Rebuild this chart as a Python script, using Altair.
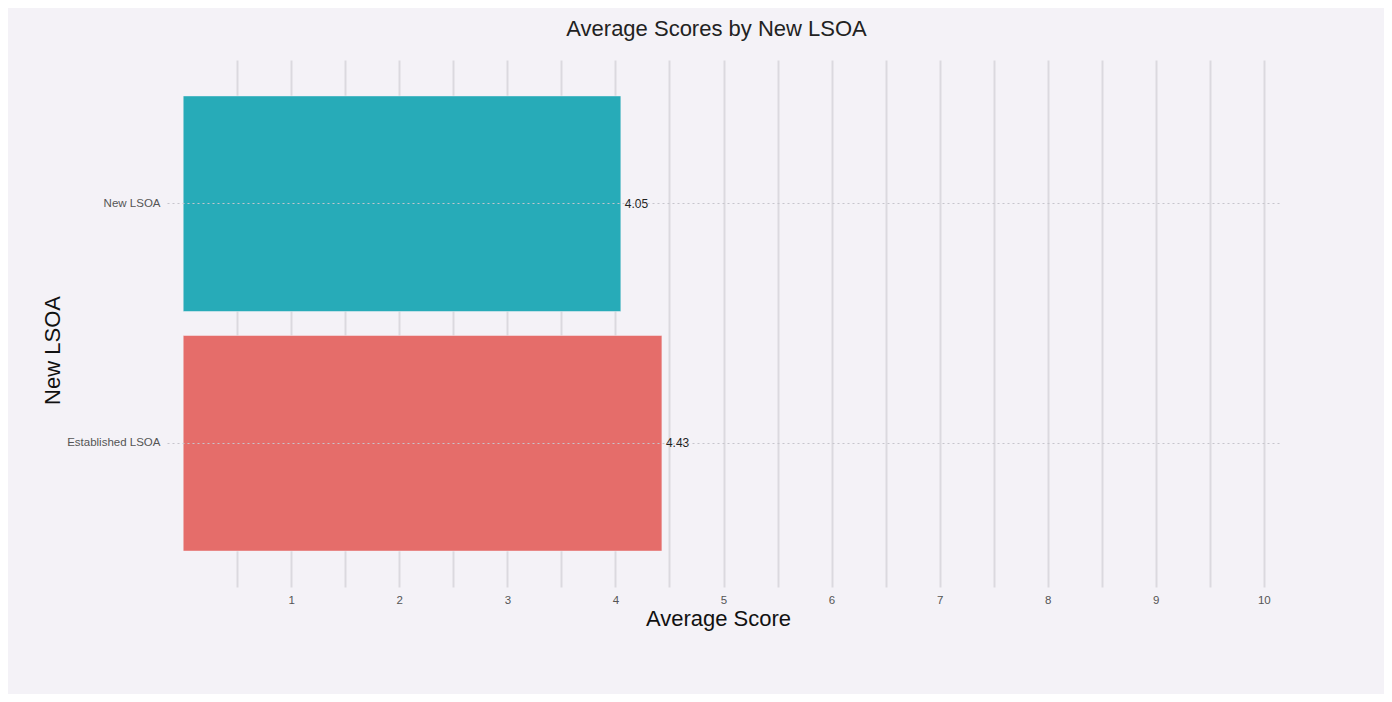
import altair as alt
import pandas as pd

categories = ["New LSOA", "Established LSOA"]
scores = [4.05, 4.43]
colors = ["#27abb8", "#e56d6a"]
labels = ["4.05", "4.43"]
x_grid_values = [0.5, 1, 1.5, 2, 2.5, 3, 3.5, 4, 4.5, 5, 5.5, 6, 6.5, 7, 7.5, 8, 8.5, 9, 9.5, 10]

df = pd.DataFrame({"group": categories, "score": scores, "label": labels})

BG = "#f4f2f7"

y_enc = alt.Y(
    "group:N",
    sort=categories,
    scale=alt.Scale(paddingInner=0.1, paddingOuter=0.15),
    axis=alt.Axis(
        title="New LSOA",
        titleFontSize=22,
        titleFontWeight="normal",
        titleColor="#111111",
        titleAngle=270,
        titleX=-115,
        titleY=290,
        titleAlign="center",
        titleBaseline="middle",
        labelFontSize=11.5,
        labelColor="#555555",
        labelPadding=7,
        ticks=False,
        domain=False,
        grid=True,
        gridColor="#c6c5cc",
        gridDash=[2, 3],
        gridWidth=1,
        zindex=1,
    ),
)

x_enc = alt.X(
    "score:Q",
    scale=alt.Scale(domain=[-0.15, 10.15], nice=False, zero=False),
    axis=alt.Axis(
        title="Average Score",
        titleFontSize=22,
        titleFontWeight="normal",
        titleColor="#111111",
        titleX=551,
        titleY=31,
        titleAlign="center",
        titleBaseline="middle",
        values=x_grid_values,
        labelExpr="datum.value % 1 == 0 ? format(datum.value, 'd') : ''",
        labelFontSize=11.5,
        labelColor="#555555",
        labelPadding=7,
        ticks=False,
        domain=False,
        grid=True,
        gridColor="#dbd9df",
        gridWidth=2,
        zindex=0,
    ),
)

bars = alt.Chart(df).mark_bar(stroke=BG, strokeWidth=0.5).encode(
    y=y_enc,
    x=x_enc,
    color=alt.Color(
        "group:N",
        scale=alt.Scale(domain=categories, range=colors),
        legend=None,
    ),
)

text = alt.Chart(df).mark_text(
    align="left", baseline="middle", dx=4, fontSize=12, color="#222222",
    font="Liberation Sans",
).encode(
    y=alt.Y("group:N", sort=categories),
    x=alt.X("score:Q"),
    text="label:N",
)

chart = (
    alt.layer(bars, text)
    .properties(
        width=1113,
        height=527,
        autosize=alt.AutoSizeParams(type="none"),
        padding={"left": 159, "top": 52, "right": 104, "bottom": 107},
        background=BG,
        title=alt.TitleParams(
            "Average Scores by New LSOA",
            fontSize=22,
            fontWeight="normal",
            color="#222222",
            anchor="middle",
            offset=19,
            dx=-7,
            font="Liberation Sans",
        ),
    )
    .configure(font="Liberation Sans")
    .configure_view(strokeWidth=0, stroke="transparent", fill=BG)
)

chart.save("out.html", embed_options={"renderer": "svg", "actions": False})
